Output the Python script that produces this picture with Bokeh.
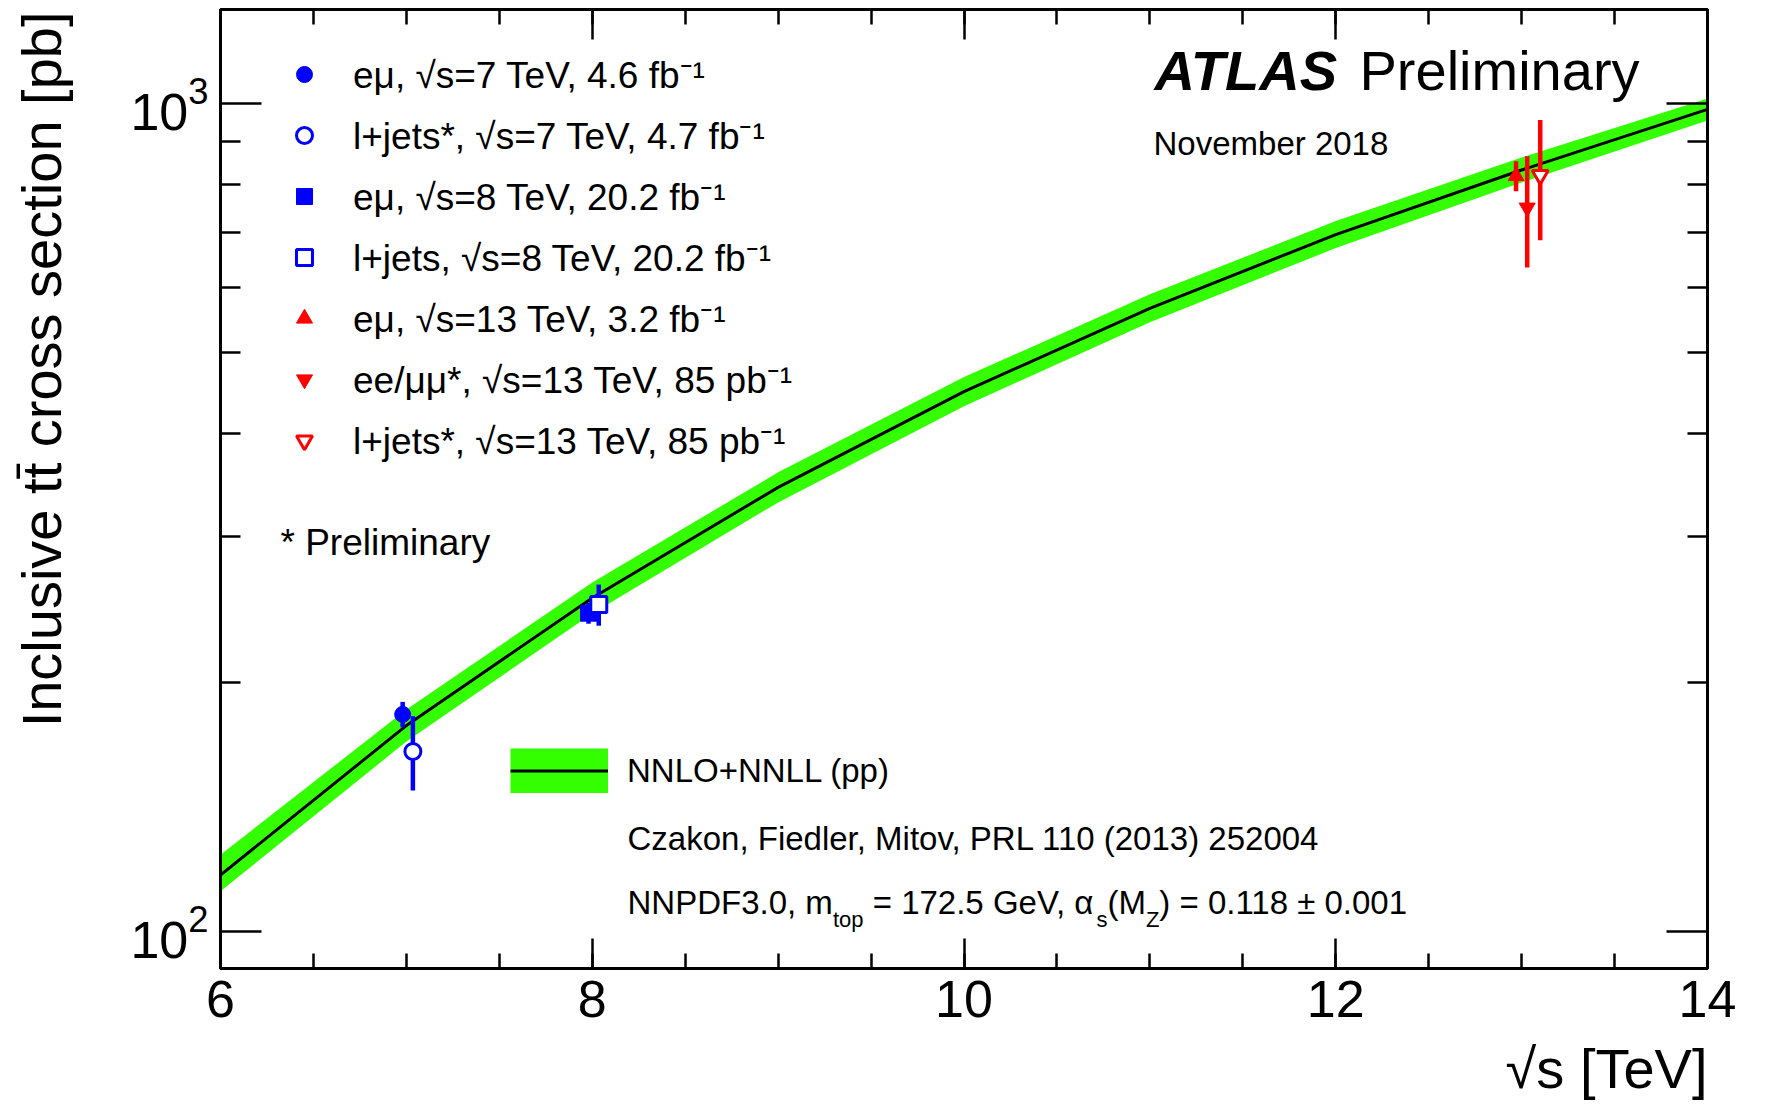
import math
from bokeh.plotting import figure
from bokeh.models import (Range1d, LinearAxis, LogAxis, SingleIntervalTicker, FixedTicker,
                          LogTickFormatter, Legend, LegendItem, Label)
from bokeh.embed import file_html
from bokeh.resources import INLINE

# ---------------- data ----------------
sqrt_s = [7, 7, 8, 8, 13, 13, 13]                          # TeV
x_shift = [-0.02, 0.035, -0.02, 0.035, -0.03, 0.03, 0.10]  # display offsets (TeV)
xsec = [182.9, 165.0, 242.4, 248.3, 818.0, 749.0, 820.0]   # pb
xsec_err = [6.5, 17.0, 7.0, 14.2, 34.0, 115.0, 136.0]      # pb
series_labels = [
    "eμ, √s=7 TeV, 4.6 fb⁻¹",
    "l+jets*, √s=7 TeV, 4.7 fb⁻¹",
    "eμ, √s=8 TeV, 20.2 fb⁻¹",
    "l+jets, √s=8 TeV, 20.2 fb⁻¹",
    "eμ, √s=13 TeV, 3.2 fb⁻¹",
    "ee/μμ*, √s=13 TeV, 85 pb⁻¹",
    "l+jets*, √s=13 TeV, 85 pb⁻¹",
]
series_markers = ["circle", "circle", "square", "square", "triangle",
                  "inverted_triangle", "inverted_triangle"]
series_colors = ["#0000ff"] * 4 + ["#ff0000"] * 3
series_filled = [True, False, True, False, True, True, False]

theory_sqrt_s = [6, 7, 8, 9, 10, 11, 12, 13, 14]
theory_xsec = [117.0, 177.3, 252.9, 344.0, 449.0, 566.0, 695.0, 831.8, 984.5]
theory_lo = [111.8, 169.6, 242.2, 329.9, 431.2, 544.4, 669.4, 803.4, 954.8]
theory_hi = [123.8, 185.4, 264.0, 358.7, 467.5, 588.5, 721.6, 861.2, 1015.0]

y_major_ticks = [100, 1000]
y_minor_ticks = [200, 300, 400, 500, 600, 700, 800, 900]
x_major_interval = 2

FONT = "Liberation Sans"
GREEN = "#33ff00"
YTITLE = "Inclusive tt\u0304 cross section [pb]"
XTITLE = "√s [TeV]"

# ---------------- figure ----------------
W, H = 1760, 1111
p = figure(width=W, height=H, x_range=Range1d(6, 14), y_range=Range1d(90.2, 1300),
           y_axis_type="log", output_backend="svg", toolbar_location=None,
           min_border_left=220, min_border_right=53, min_border_top=9,
           min_border_bottom=H - 968)
p.grid.visible = False
p.outline_line_color = "black"
p.outline_line_width = 3
p.background_fill_color = "white"
p.border_fill_color = "white"

xticker = SingleIntervalTicker(interval=x_major_interval, num_minor_ticks=4)
yticker = FixedTicker(ticks=y_major_ticks, minor_ticks=y_minor_ticks)

def style_axis(ax, major_in, minor_in, show_labels):
    ax.axis_line_width = 3
    ax.major_tick_line_width = 2.5
    ax.minor_tick_line_width = 2.5
    ax.major_tick_in = major_in
    ax.major_tick_out = 0
    ax.minor_tick_in = minor_in
    ax.minor_tick_out = 0
    if show_labels:
        ax.major_label_text_font = FONT
        ax.major_label_text_font_size = "52px"
        ax.major_label_text_color = "black"
    else:
        ax.major_label_text_font_size = "0px"
        ax.major_label_text_color = None
        ax.major_label_standoff = 0

xa = p.xaxis[0]
xa.ticker = xticker
style_axis(xa, 30, 15, True)
xa.major_label_standoff = 12

ya = p.yaxis[0]
ya.ticker = yticker
ya.formatter = LogTickFormatter()
style_axis(ya, 41, 20, True)
ya.major_label_standoff = 12

top = LinearAxis(ticker=xticker)
style_axis(top, 30, 15, False)
p.add_layout(top, "above")
right = LogAxis(ticker=yticker)
style_axis(right, 41, 20, False)
p.add_layout(right, "right")

# axis titles as labels in the side panels (coordinates relative to each panel)
ylab = Label(x=-23, y=957, x_units="screen", y_units="screen", text=YTITLE,
             text_font=FONT, text_font_size="56px", text_color="black",
             angle=math.pi / 2, text_align="right", text_baseline="middle")
p.add_layout(ylab, "left")
xlab = Label(x=1487, y=-17, x_units="screen", y_units="screen", text=XTITLE,
             text_font=FONT, text_font_size="56px", text_color="black",
             text_align="right")
p.add_layout(xlab, "below")

# ---------------- theory band ----------------
band = p.varea(x=theory_sqrt_s, y1=theory_lo, y2=theory_hi, fill_color=GREEN)
band_key = p.line(x=theory_sqrt_s, y=theory_xsec, line_color=GREEN, line_width=45,
                  visible=False)
curve = p.line(x=theory_sqrt_s, y=theory_xsec, line_color="black", line_width=3)

# ---------------- measurements ----------------
items = []
for i in range(len(xsec)):
    xpos = sqrt_s[i] + x_shift[i]
    p.segment(x0=[xpos], y0=[xsec[i] - xsec_err[i]], x1=[xpos], y1=[xsec[i] + xsec_err[i]],
              line_color=series_colors[i], line_width=4.5)
for i in range(len(xsec)):
    xpos = sqrt_s[i] + x_shift[i]
    r = p.scatter(x=[xpos], y=[xsec[i]], marker=series_markers[i], size=16,
                  line_color=series_colors[i], line_width=3 if not series_filled[i] else 1,
                  fill_color=series_colors[i] if series_filled[i] else "white")
    items.append(LegendItem(label=series_labels[i], renderers=[r]))

leg = Legend(items=items, location=(64, 503), glyph_width=40, glyph_height=48,
             label_height=48, spacing=10, label_standoff=29, padding=0, margin=0,
             border_line_color=None, background_fill_alpha=0,
             label_text_font=FONT, label_text_font_size="37px", label_text_color="black")
p.add_layout(leg)

leg2 = Legend(items=[LegendItem(label="NNLO+NNLL (pp)", renderers=[band_key, curve])],
              location=(290, 175), glyph_width=98, glyph_height=45, label_height=45,
              label_standoff=19, padding=0, margin=0, border_line_color=None,
              background_fill_alpha=0, label_text_font=FONT, label_text_font_size="33px",
              label_text_color="black")
p.add_layout(leg2)

# ---------------- texts (screen units, relative to the frame) ----------------
def txt(x, y, s, size, **kw):
    lab = Label(x=x, y=y, x_units="screen", y_units="screen", text=s,
                text_font=FONT, text_font_size=size, text_color="black", **kw)
    p.add_layout(lab)
    return lab

dy = -6
txt(934, 873 + dy, "ATLAS", "56px", text_font_style="bold italic")
txt(1139, 873 + dy, "Preliminary", "56px")
txt(933, 813 + dy, "November 2018", "33px")
txt(60, 412 + dy, "* Preliminary", "37px")

txt(407, 117.6 + dy, "Czakon, Fiedler, Mitov, PRL 110 (2013) 252004", "33px")
txt(407, 53.2 + dy, "NNPDF3.0, m", "33px")
txt(612.4, 43 + dy, "top", "22px")
txt(652.2, 53.2 + dy, "= 172.5 GeV, α", "33px")
txt(875.9, 43 + dy, "s", "22px")
txt(886.9, 53.2 + dy, "(M", "33px")
txt(925.4, 43 + dy, "Z", "22px")
txt(938.8, 53.2 + dy, ") = 0.118 ± 0.001", "33px")

open("out.html", "w").write(file_html(p, INLINE))
